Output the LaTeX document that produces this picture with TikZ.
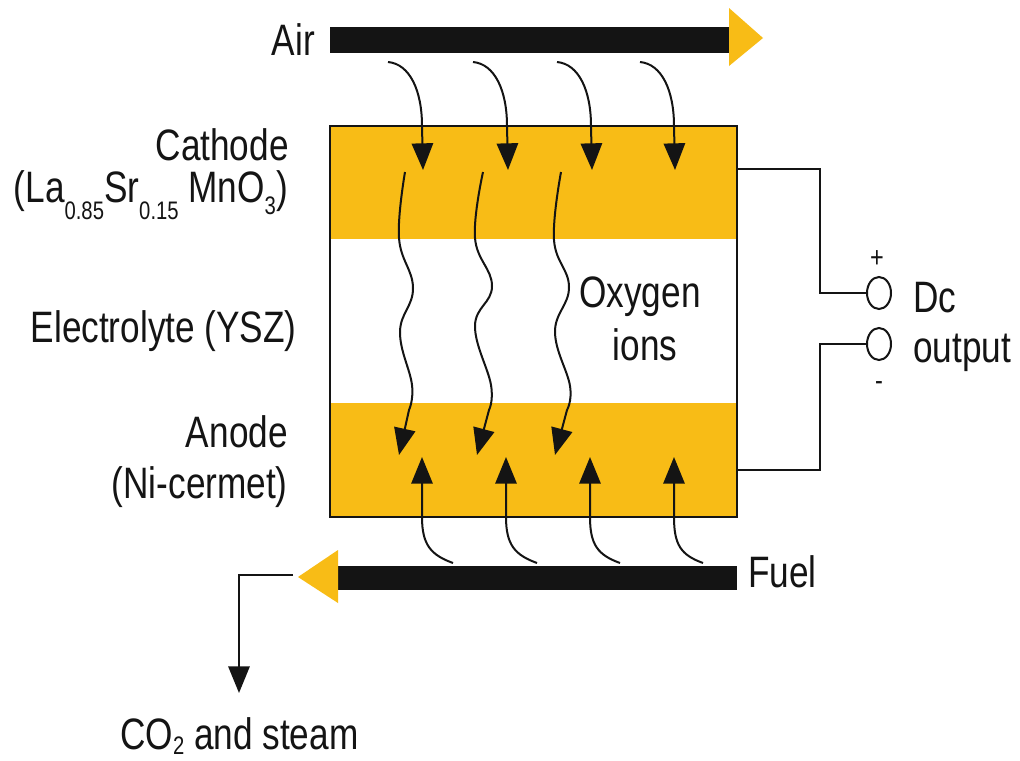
\documentclass[tikz,border=0pt]{standalone}
\usepackage{fontspec}
\setmainfont{Liberation Sans}[FakeStretch=0.8]
\usetikzlibrary{arrows.meta,shapes.geometric}
\definecolor{layer}{RGB}{248,188,22}
\definecolor{ink}{RGB}{20,20,20}
\newcommand{\lowsub}[2]{\raisebox{#1}{\fontsize{19}{20}\selectfont #2}}
\begin{document}
\begin{tikzpicture}[x=0.75pt,y=-0.75pt,
  lbl/.style={inner sep=0pt,text=ink,font=\fontsize{33}{38}\selectfont},
  sgn/.style={inner sep=0pt,text=ink,font=\fontsize{22}{24}\selectfont},
  flow/.style={draw=ink,line width=1.5pt,-{Triangle[length=20pt,width=16pt]}},
  wire/.style={draw=ink,line width=1.5pt},
  bar/.style={fill=ink},
  head/.style={fill=layer},
  term/.style={draw=ink,line width=1.5pt,ellipse,minimum width=18pt,minimum height=24pt,inner sep=0pt}]
\useasboundingbox (0,0) rectangle (1020,760);
\fill[white] (0,0) rectangle (1020,760);

% cell layers
\fill[layer] (330,126) rectangle (737,239);
\fill[layer] (330,403) rectangle (737,517);
\draw[wire] (330,126) rectangle (737,517);

% air bar and arrow head
\fill[bar] (330,27) rectangle (729,53);
\fill[head] (729,8) -- (763,38) -- (729,66) -- cycle;
% fuel bar and arrow head
\fill[bar] (338,566) rectangle (737,590);
\fill[head] (338,550) -- (298,577) -- (338,603) -- cycle;

% labels
\node[lbl,anchor=base east] (air) at (315,55) {Air};
\node[lbl,anchor=base east] (cath) at (289,160) {Cathode};
\node[lbl,anchor=base east] (cathf) at (288,202) {(La\lowsub{-13pt}{0.85}Sr\lowsub{-13pt}{0.15} MnO\lowsub{-9pt}{3})};
\node[lbl,anchor=base east] (elec) at (297,342) {Electrolyte (YSZ)};
\node[lbl,anchor=base east] (anod) at (288,447) {Anode};
\node[lbl,anchor=base east] (anodf) at (288,498) {(Ni-cermet)};
\node[lbl,anchor=base] (oxy) at (640,307) {Oxygen};
\node[lbl,anchor=base] (ions) at (645,360) {ions};
\node[lbl,anchor=base west] (dc) at (913,312) {Dc};
\node[lbl,anchor=base west] (outp) at (913,362) {output};
\node[lbl,anchor=base west] (fuel) at (748,587) {Fuel};
\node[lbl,anchor=base west] (co2) at (120,749) {CO\lowsub{-4pt}{2} and steam};

% air arrows
\foreach \i/\sx/\ex in {1/388/422,2/473/507,3/557/591,4/640/674}{
  \coordinate (as\i) at (\sx,62);
  \coordinate (am\i) at (\ex,126);
  \coordinate (at\i) at (\ex+1,170);
  \draw[flow] (as\i) .. controls +(22,2) and +(0,-35) .. (am\i) -- (at\i);
}

% fuel arrows
\foreach \i/\sx/\ex in {1/453/422,2/537/506,3/620/590,4/703/674}{
  \coordinate (fs\i) at (\sx,563);
  \coordinate (fm\i) at (\ex,517);
  \coordinate (ft\i) at (\ex,457);
  \draw[flow] (fs\i) .. controls +(-22,-8) and +(0,28) .. (fm\i) -- (ft\i);
}

% oxygen ion paths
\coordinate (o1) at (399,455);
\coordinate (o2) at (477,455);
\coordinate (o3) at (555,455);
\draw[flow] plot[smooth,tension=0.7] coordinates {(405,172) (399,238) (413,288) (400,332) (412,385) (409,410)} -- (o1);
\draw[flow] plot[smooth,tension=0.7] coordinates {(483,172) (475,238) (492,286) (475,326) (491,385) (489,410)} -- (o2);
\draw[flow] plot[smooth,tension=0.7] coordinates {(561,172) (554,240) (569,287) (555,332) (570,386) (567,410)} -- (o3);

% terminals and leads
\node[term] (tp) at (879,293) {};
\node[term] (tm) at (879,344) {};
\node[sgn] (plus) at (877,259) {+};
\node[sgn] (minus) at (879,386) {-};
\coordinate (cl) at (737,169);
\coordinate (al) at (737,470);
\draw[wire] (cl) -- (820,169) |- (tp.west);
\draw[wire] (tm.west) -- (820,344) |- (al);

% exhaust arrow
\coordinate (ex0) at (293,575);
\coordinate (ext) at (239,693);
\draw[flow] (ex0) -| (ext);
\end{tikzpicture}
\end{document}
